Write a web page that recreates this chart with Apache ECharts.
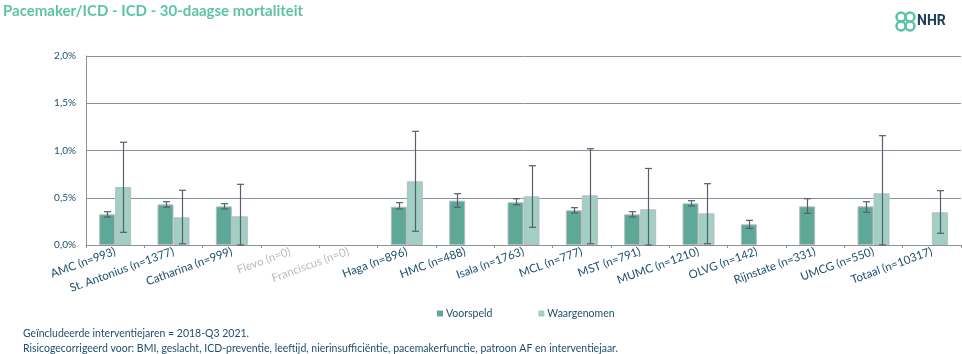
<!DOCTYPE html>
<html>
<head>
<meta charset="utf-8">
<script src="https://cdn.jsdelivr.net/npm/echarts@6/dist/echarts.min.js"></script>
<style>
html,body{margin:0;padding:0;background:#fff;}
#main{width:962px;height:354px;}
</style>
</head>
<body>
<div id="main"></div>
<script>
// ziekenhuizen + aantallen
var categories = ['AMC (n=993)', 'St. Antonius (n=1377)', 'Catharina (n=999)', 'Flevo (n=0)', 'Franciscus (n=0)',
    'Haga (n=896)', 'HMC (n=488)', 'Isala (n=1763)', 'MCL (n=777)', 'MST (n=791)', 'MUMC (n=1210)',
    'OLVG (n=142)', 'Rijnstate (n=331)', 'UMCG (n=550)', 'Totaal (n=10317)']
var greyedOut = ['Flevo (n=0)', 'Franciscus (n=0)']

// waarden in %
var voorspeld = [0.325, 0.43, 0.409, null, null, 0.405, 0.469, 0.452, 0.367, 0.325, 0.441, 0.219, 0.409, 0.409, null]
var voorspeldLaag = [0.296, 0.40, 0.381, null, null, 0.381, 0.399, 0.426, 0.339, 0.296, 0.413, 0.176, 0.335, 0.346, null]
var voorspeldHoog = [0.352, 0.458, 0.437, null, null, 0.448, 0.543, 0.49, 0.395, 0.352, 0.469, 0.261, 0.49, 0.458, null]

var waargenomen = [0.614, 0.293, 0.304, null, null, 0.674, null, 0.515, 0.526, 0.378, 0.335, null, null, 0.547, 0.346]
var waargenomenLaag = [0.134, 0.014, 0, null, null, 0.145, null, 0.187, 0.014, 0, 0.014, null, null, 0, 0.124]
var waargenomenHoog = [1.087, 0.579, 0.642, null, null, 1.203, null, 0.839, 1.019, 0.81, 0.649, null, null, 1.157, 0.575]

var yTicks = [0, 0.5, 1.0, 1.5, 2.0]

var BAR_W = 16
var font = 'Lato, "Open Sans", sans-serif'
var navy = '#1d4f6e'

function errData(lo, hi, offset) {
    var out = []
    for (var i = 0; i < lo.length; i++) {
        if (lo[i] != null && hi[i] != null) out.push([i, lo[i], hi[i], offset])
    }
    return out
}

function renderErr(params, api) {
    var idx = api.value(0)
    var off = api.value(3)
    var lo = api.coord([idx, api.value(1)])
    var hi = api.coord([idx, api.value(2)])
    var x = Math.round(lo[0] + off * BAR_W / 2) + 0.5
    var style = {stroke: '#56606a', lineWidth: 1.2}
    return {
        type: 'group',
        children: [
            {type: 'line', shape: {x1: x, y1: lo[1], x2: x, y2: hi[1]}, style: style},
            {type: 'line', shape: {x1: x - 3.5, y1: lo[1], x2: x + 3.5, y2: lo[1]}, style: style},
            {type: 'line', shape: {x1: x - 3.5, y1: hi[1], x2: x + 3.5, y2: hi[1]}, style: style}
        ]
    }
}

var chart = echarts.init(document.getElementById('main'))
var option = {
    animation: false,
    textStyle: {fontFamily: font},
    title: {
        text: 'Pacemaker/ICD - ICD - 30-daagse mortaliteit',
        left: -2,
        top: -1,
        textStyle: {color: '#5cc3a6', fontSize: 15, fontWeight: 'bold', fontFamily: font}
    },
    legend: {
        data: ['Voorspeld', 'Waargenomen'],
        left: 432,
        top: 303,
        itemWidth: 6,
        itemHeight: 6,
        itemGap: 46,
        icon: 'rect',
        itemStyle: {borderWidth: 0},
        textStyle: {color: navy, fontSize: 10.5, fontFamily: font, padding: [0, 0, 0, -2]}
    },
    grid: {left: 86, right: 1, top: 56, bottom: 109},
    xAxis: {
        type: 'category',
        data: categories,
        axisLine: {lineStyle: {color: '#8a939b', width: 1}},
        axisTick: {show: true, length: 3, lineStyle: {color: '#8a939b'}},
        axisLabel: {
            rotate: 20,
            interval: 0,
            margin: 6,
            fontSize: 11.5,
            fontFamily: font,
            color: function (value) {
                return greyedOut.indexOf(value) >= 0 ? '#b8bcbf' : navy
            }
        }
    },
    yAxis: {
        type: 'value',
        min: 0,
        max: 2,
        interval: 0.5,
        axisLine: {show: true, lineStyle: {color: '#8a939b'}},
        axisTick: {show: false},
        splitLine: {lineStyle: {color: '#8a939b', width: 1}},
        axisLabel: {
            fontSize: 10,
            color: navy,
            margin: 10,
            formatter: function (v) {
                return v.toFixed(1).replace('.', ',') + '%'
            }
        }
    },
    series: [
        {
            name: 'Voorspeld',
            type: 'bar',
            data: voorspeld,
            barWidth: BAR_W,
            barGap: '0%',
            itemStyle: {color: '#5ea898', borderColor: '#b9bdbf', borderWidth: 1}
        },
        {
            name: 'Waargenomen',
            type: 'bar',
            data: waargenomen,
            barWidth: BAR_W,
            itemStyle: {color: '#a1cfc3', borderColor: '#b9bdbf', borderWidth: 1}
        },
        {
            type: 'custom',
            renderItem: renderErr,
            data: errData(voorspeldLaag, voorspeldHoog, -1),
            z: 5,
            silent: true
        },
        {
            type: 'custom',
            renderItem: renderErr,
            data: errData(waargenomenLaag, waargenomenHoog, 1),
            z: 5,
            silent: true
        }
    ],
    graphic: [
        {
            type: 'text',
            left: 23,
            top: 328,
            style: {text: 'Geïncludeerde interventiejaren = 2018-Q3 2021.', fill: navy, fontSize: 10.5, fontFamily: font}
        },
        {
            type: 'text',
            left: 23,
            top: 343,
            style: {
                text: 'Risicogecorrigeerd voor: BMI, geslacht, ICD-preventie, leeftijd, nierinsufficiëntie, pacemakerfunctie, patroon AF en interventiejaar.',
                fill: navy, fontSize: 10.5, fontFamily: font
            }
        },
        // NHR logo
        {
            type: 'group',
            left: 894,
            top: 10,
            children: [
                {type: 'circle', shape: {cx: 6, cy: 6, r: 4.5}, style: {fill: 'none', stroke: '#5cc3a6', lineWidth: 2.5}},
                {type: 'circle', shape: {cx: 15, cy: 6, r: 4.5}, style: {fill: 'none', stroke: '#5cc3a6', lineWidth: 2.5}},
                {type: 'circle', shape: {cx: 6, cy: 15, r: 4.5}, style: {fill: 'none', stroke: '#5cc3a6', lineWidth: 2.5}},
                {type: 'circle', shape: {cx: 15, cy: 15, r: 4.5}, style: {fill: 'none', stroke: '#5cc3a6', lineWidth: 2.5}},
                {type: 'text', x: 22, y: 3, style: {text: 'NHR', fill: '#1d3f57', fontSize: 14, fontWeight: 'bold', fontFamily: 'Roboto, sans-serif'}}
            ]
        }
    ]
}
chart.setOption(option)
</script>
</body>
</html>
